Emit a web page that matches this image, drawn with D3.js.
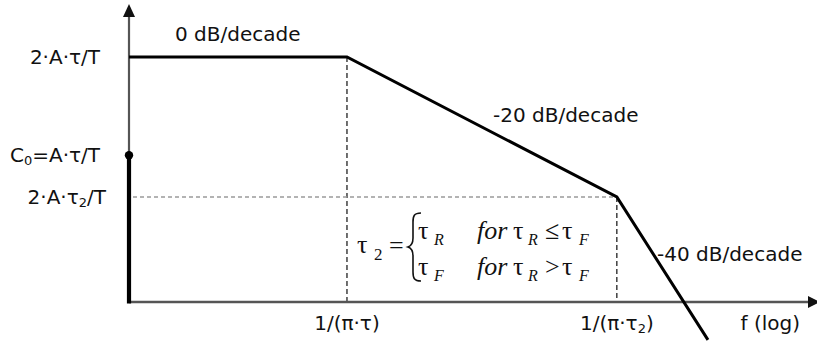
<!DOCTYPE html>
<html>
<head>
<meta charset="utf-8">
<script src="https://cdn.jsdelivr.net/npm/d3@7"></script>
<style>
  html, body { margin: 0; padding: 0; background: #fff; }
  svg { display: block; }
  .lbl { font-family: "DejaVu Sans", sans-serif; font-size: 20px; fill: #111; }
  .math { font-family: "Liberation Serif", "Times New Roman", serif; font-size: 26px; fill: #111; }
</style>
</head>
<body>
<svg id="chart" width="817" height="341"></svg>
<script>
// Normalised frequency of the asymptote corners (log axis) and their levels in dB
const cornerFreqs = [1, 10, 173, 453];
const cornerLevels = [0, 0, -24.8, -50.1];

// Axis extents
const freqDomain = [1, 1374];
const levelDomain = [0, -43.4];

// Level marks on the vertical axis
const levelMarks = [
  { level: 0, dx: 0, parts: [["2·A·τ/T", null]] },
  { level: -17.4, dx: 0, parts: [["C", null], ["0", "sub"], ["=A·τ/T", null]] },
  { level: -24.8, dx: 6, parts: [["2·A·τ", null], ["2", "sub"], ["/T", null]] }
];
const dcLevel = -17.4;

// Frequency marks on the horizontal axis
const freqMarks = [
  { f: 10, parts: [["1/(π·τ)", null]] },
  { f: 173, parts: [["1/(π·τ", null], ["2", "sub"], [")", null]] }
];

// Slope annotations
const slopeLabels = ["0 dB/decade", "-20 dB/decade", "-40 dB/decade"];

const svg = d3.select("#chart");
const x = d3.scaleLog().domain(freqDomain).range([129, 813]);
const y = d3.scaleLinear().domain(levelDomain).range([57, 302]);

const x0 = x(freqDomain[0]);
const yBase = y(levelDomain[1]);

// write a label made of plain and subscript runs
function addRuns(textSel, parts, subSize) {
  parts.forEach(([t, kind]) => {
    const ts = textSel.append("tspan").text(t);
    if (kind === "sub") {
      ts.attr("font-size", subSize).attr("baseline-shift", "-25%");
    }
  });
}

// guide lines at the corner frequencies
svg.append("line")
  .attr("x1", x(cornerFreqs[1])).attr("x2", x(cornerFreqs[1]))
  .attr("y1", y(cornerLevels[1])).attr("y2", yBase)
  .attr("stroke", "#222").attr("stroke-width", 1.3).attr("stroke-dasharray", "5,3");
svg.append("line")
  .attr("x1", x(cornerFreqs[2])).attr("x2", x(cornerFreqs[2]))
  .attr("y1", y(cornerLevels[2])).attr("y2", yBase)
  .attr("stroke", "#222").attr("stroke-width", 1.3).attr("stroke-dasharray", "5,3");
svg.append("line")
  .attr("x1", x0 + 4).attr("x2", x(cornerFreqs[2]))
  .attr("y1", y(cornerLevels[2])).attr("y2", y(cornerLevels[2]))
  .attr("stroke", "#9a9a9a").attr("stroke-width", 1.6).attr("stroke-dasharray", "4,3");

// vertical axis: thin part above the DC level, thick part below it
svg.append("line")
  .attr("x1", x0).attr("x2", x0).attr("y1", 14).attr("y2", y(dcLevel))
  .attr("stroke", "#555").attr("stroke-width", 2.2);
svg.append("path")
  .attr("d", `M${x0},4 L${x0 + 6},17 L${x0 - 6},17 Z`)
  .attr("fill", "#111");

// horizontal axis
svg.append("line")
  .attr("x1", x0).attr("x2", x(freqDomain[1])).attr("y1", yBase).attr("y2", yBase)
  .attr("stroke", "#555").attr("stroke-width", 2.6);
svg.append("path")
  .attr("d", `M${x(freqDomain[1]) + 7},${yBase} L${x(freqDomain[1]) - 5},${yBase - 6} L${x(freqDomain[1]) - 5},${yBase + 6} Z`)
  .attr("fill", "#111");

svg.append("line")
  .attr("x1", x0).attr("x2", x0).attr("y1", y(dcLevel)).attr("y2", yBase + 1.5)
  .attr("stroke", "#000").attr("stroke-width", 4.2);
svg.append("circle")
  .attr("cx", x0).attr("cy", y(dcLevel)).attr("r", 4.2).attr("fill", "#000");

// asymptotic magnitude response
const pts = cornerFreqs.map((f, i) => [f, cornerLevels[i]]);
svg.append("path")
  .datum(pts)
  .attr("d", d3.line().x(d => x(d[0])).y(d => y(d[1])))
  .attr("fill", "none").attr("stroke", "#000").attr("stroke-width", 3)
  .attr("stroke-linejoin", "miter");

// level labels
levelMarks.forEach(m => {
  const t = svg.append("text").attr("class", "lbl")
    .attr("x", 100 + m.dx)
    .attr("y", y(m.level) + 7)
    .attr("text-anchor", "end");
  addRuns(t, m.parts, 13);
});

// frequency labels
freqMarks.forEach(m => {
  const t = svg.append("text").attr("class", "lbl")
    .attr("x", x(m.f)).attr("y", 330)
    .attr("text-anchor", "middle");
  addRuns(t, m.parts, 13);
});
svg.append("text").attr("class", "lbl")
  .attr("x", 800).attr("y", 330).attr("text-anchor", "end").text("f (log)");

// slope annotations
svg.append("text").attr("class", "lbl").attr("x", 175).attr("y", 41).text(slopeLabels[0]);
svg.append("text").attr("class", "lbl").attr("x", 493).attr("y", 122).text(slopeLabels[1]);
svg.append("text").attr("class", "lbl").attr("x", 657).attr("y", 261).text(slopeLabels[2]);

// definition of tau_2 as a piecewise expression
const m = svg.append("g").attr("class", "math");
function put(xx, yy, str, opts = {}) {
  const t = m.append("text").attr("x", xx).attr("y", yy).text(str);
  if (opts.italic) t.attr("font-style", "italic");
  if (opts.size) t.attr("font-size", opts.size);
  return t;
}
put(357, 253, "τ");
put(374, 260, "2", { size: 17 });
put(389, 254, "=");
// curly brace
m.append("path")
  .attr("d", "M421,213 C414,213 413,216 413,222 L413,238 C413,244 411,246 408,247 C411,248 413,250 413,256 L413,272 C413,278 414,281 421,281")
  .attr("fill", "none").attr("stroke", "#111").attr("stroke-width", 1.6);

function row(yy, s1, rel) {
  put(418, yy, "τ");
  put(434, yy + 6, s1, { italic: true, size: 16 });
  put(477, yy, "for", { italic: true });
  put(513, yy, "τ");
  put(528, yy + 6, "R", { italic: true, size: 16 });
  put(545, yy, rel);
  put(562, yy, "τ");
  put(579, yy + 6, "F", { italic: true, size: 16 });
}
row(239, "R", "≤");
row(275, "F", ">");
</script>
</body>
</html>
